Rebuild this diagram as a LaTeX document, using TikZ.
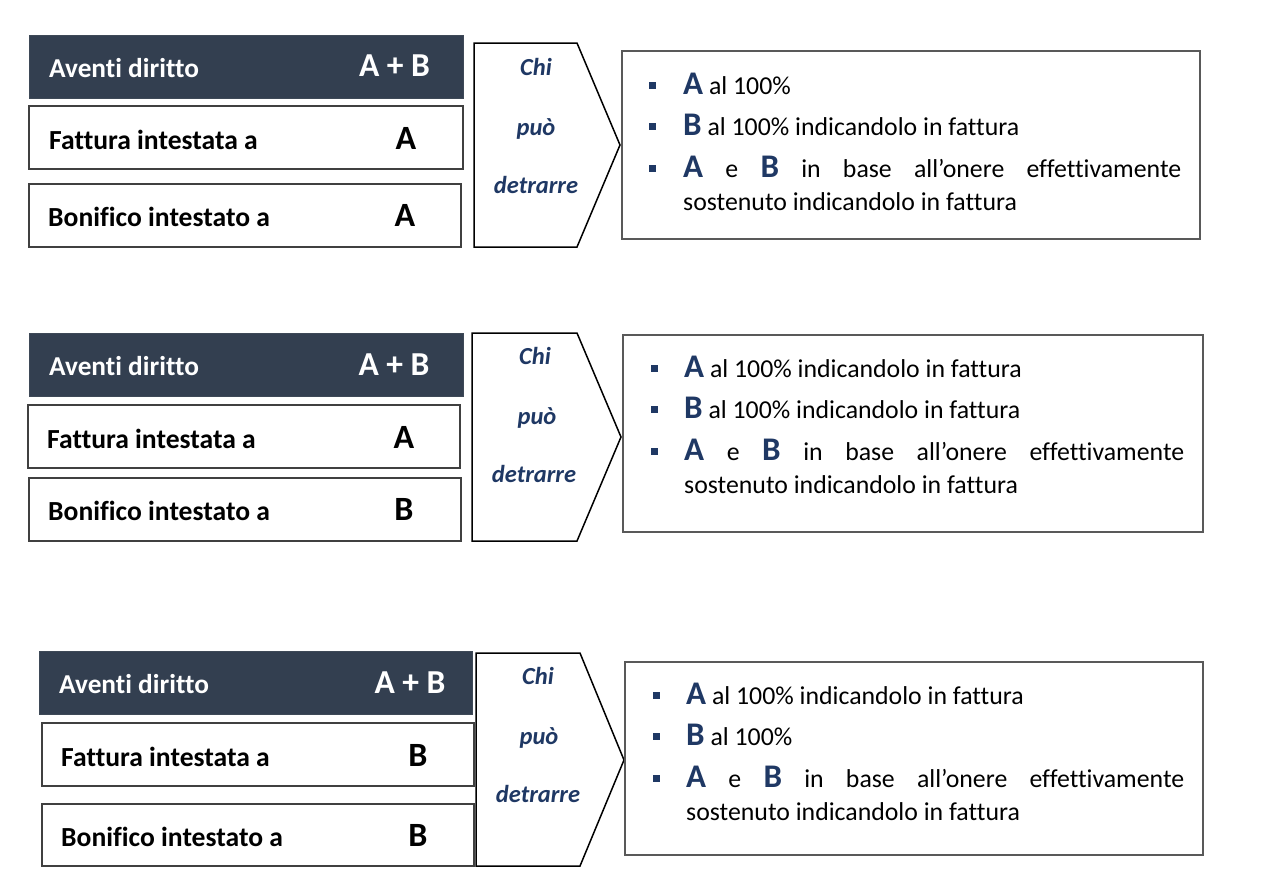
\documentclass[tikz,border=0pt]{standalone}
\usepackage{fontspec}
\setmainfont{Carlito}[Ligatures={TeX,NoCommon}]
\definecolor{hdrfill}{HTML}{333F50}
\definecolor{blu}{HTML}{1F3864}
\definecolor{boxline}{HTML}{404040}
\definecolor{rline}{HTML}{595959}
\newcommand\myBig[1]{{\color{blu}\fontsize{33}{33}\selectfont\bfseries #1}}
\begin{document}
\begin{tikzpicture}[x=1pt,y=-1pt,
  hdrbox/.style={draw=hdrfill!85!gray, fill=hdrfill, line width=1pt, minimum height=63pt, inner sep=0pt},
  leftbox/.style={draw=boxline, line width=1.5pt, fill=white, minimum height=63pt, inner sep=0pt},
  rightbox/.style={draw=rline, line width=1.5pt, fill=white, inner sep=0pt},
  chev/.style={draw=black, line width=1.5pt, line join=miter},
  lbl/.style={anchor=base west, inner sep=0pt, font=\fontsize{27.6}{30}\selectfont\bfseries},
  hlbl/.style={lbl, text=white, font=\fontsize{27.3}{30}\selectfont\bfseries},
  val/.style={anchor=base, inner sep=0pt, font=\fontsize{34}{36}\selectfont\bfseries},
  hval/.style={val, text=white, font=\fontsize{33.5}{34}\selectfont\bfseries},
  chtxt/.style={anchor=base, inner sep=0pt, text=blu, font=\fontsize{24.5}{26}\selectfont\bfseries\itshape},
  item/.style={anchor=base west, inner sep=0pt, font=\fontsize{25.8}{30}\selectfont},
  bul/.style={fill=blu, minimum size=7pt, inner sep=0pt}
]
\useasboundingbox (0,0) rectangle (1280,889);
\fill[white] (0,0) rectangle (1280,889);

% ---------------- Block 1 ----------------
\node[hdrbox, minimum width=434pt] (h1) at (246,66.5) {};
\node[leftbox, minimum width=434pt] (f1) at (246,137.5) {};
\node[leftbox, minimum width=432pt] (b1) at (245,215.5) {};
\node[hlbl] (h1t) at (49,77.3) {Aventi diritto};
\node[hval] (h1v) at (394.5,76.7) {A + B};
\node[lbl] (f1t) at (49,149) {Fattura intestata a};
\node[val] (f1v) at (406,149) {A};
\node[lbl] (b1t) at (48,226.5) {Bonifico intestato a};
\node[val] (b1v) at (405,226.5) {A};
\draw[chev] (474,43) coordinate (c1a) -- (577,43) -- (620,145) coordinate (c1tip) -- (577,247) -- (474,247) -- cycle;
\node[chtxt] (c1t1) at (536,75) {Chi};
\node[chtxt] (c1t2) at (536,135) {può};
\node[chtxt] (c1t3) at (536,193) {detrarre};
\node[rightbox, minimum width=578pt, minimum height=188pt] (r1) at (911,145) {};
\node[bul] (r1b1) at (652.5,85) {};
\node[bul] (r1b2) at (652.5,126.5) {};
\node[bul] (r1b3) at (652.5,168) {};
\node[item] (r1l1) at (683,94) {\myBig{A} al 100\%};
\node[item] (r1l2) at (683,135.5) {\myBig{B} al 100\% indicandolo in fattura};
\node[item] (r1l3) at (683,177) {\hbox to 498pt{\myBig{A}\hfill e\hfill \myBig{B}\hfill in\hfill base\hfill all’onere\hfill effettivamente}};
\node[item] (r1l4) at (683,210) {sostenuto indicandolo in fattura};

% ---------------- Block 2 ----------------
\node[hdrbox, minimum width=434pt] (h2) at (246,364.5) {};
\node[leftbox, minimum width=432pt] (f2) at (244,436.5) {};
\node[leftbox, minimum width=432pt] (b2) at (245,509.5) {};
\node[hlbl] (h2t) at (49,375) {Aventi diritto};
\node[hval] (h2v) at (394,375) {A + B};
\node[lbl] (f2t) at (47,448) {Fattura intestata a};
\node[val] (f2v) at (404,448) {A};
\node[lbl] (b2t) at (48,520) {Bonifico intestato a};
\node[val] (b2v) at (404,520) {B};
\draw[chev] (472,333) coordinate (c2a) -- (577,333) -- (621,437) coordinate (c2tip) -- (577,541) -- (472,541) -- cycle;
\node[chtxt] (c2t1) at (535,364) {Chi};
\node[chtxt] (c2t2) at (537,424) {può};
\node[chtxt] (c2t3) at (534,482) {detrarre};
\node[rightbox, minimum width=580pt, minimum height=197pt] (r2) at (913,433.5) {};
\node[bul] (r2b1) at (654,368) {};
\node[bul] (r2b2) at (654,409.5) {};
\node[bul] (r2b3) at (654,451) {};
\node[item] (r2l1) at (684,377) {\myBig{A} al 100\% indicandolo in fattura};
\node[item] (r2l2) at (684,418.5) {\myBig{B} al 100\% indicandolo in fattura};
\node[item] (r2l3) at (684,460) {\hbox to 500pt{\myBig{A}\hfill e\hfill \myBig{B}\hfill in\hfill base\hfill all’onere\hfill effettivamente}};
\node[item] (r2l4) at (684,493) {sostenuto indicandolo in fattura};

% ---------------- Block 3 ----------------
\node[hdrbox, minimum width=433pt] (h3) at (255.5,682.5) {};
\node[leftbox, minimum width=432pt] (f3) at (258,754.5) {};
\node[leftbox, minimum width=432pt, minimum height=62pt] (b3) at (258,835) {};
\node[hlbl] (h3t) at (59,693) {Aventi diritto};
\node[hval] (h3v) at (410,693) {A + B};
\node[lbl] (f3t) at (61,766) {Fattura intestata a};
\node[val] (f3v) at (418,766) {B};
\node[lbl] (b3t) at (61,846) {Bonifico intestato a};
\node[val] (b3v) at (418,846) {B};
\draw[chev] (476,653) coordinate (c3a) -- (580,653) -- (624,760) coordinate (c3tip) -- (580,866) -- (476,866) -- cycle;
\node[chtxt] (c3t1) at (538,684) {Chi};
\node[chtxt] (c3t2) at (539,744) {può};
\node[chtxt] (c3t3) at (538,802) {detrarre};
\node[rightbox, minimum width=578pt, minimum height=193pt] (r3) at (914,758.5) {};
\node[bul] (r3b1) at (656,695) {};
\node[bul] (r3b2) at (656,736.5) {};
\node[bul] (r3b3) at (656,778) {};
\node[item] (r3l1) at (686,704) {\myBig{A} al 100\% indicandolo in fattura};
\node[item] (r3l2) at (686,745.5) {\myBig{B} al 100\%};
\node[item] (r3l3) at (686,787) {\hbox to 498pt{\myBig{A}\hfill e\hfill \myBig{B}\hfill in\hfill base\hfill all’onere\hfill effettivamente}};
\node[item] (r3l4) at (686,820) {sostenuto indicandolo in fattura};
\end{tikzpicture}
\end{document}
